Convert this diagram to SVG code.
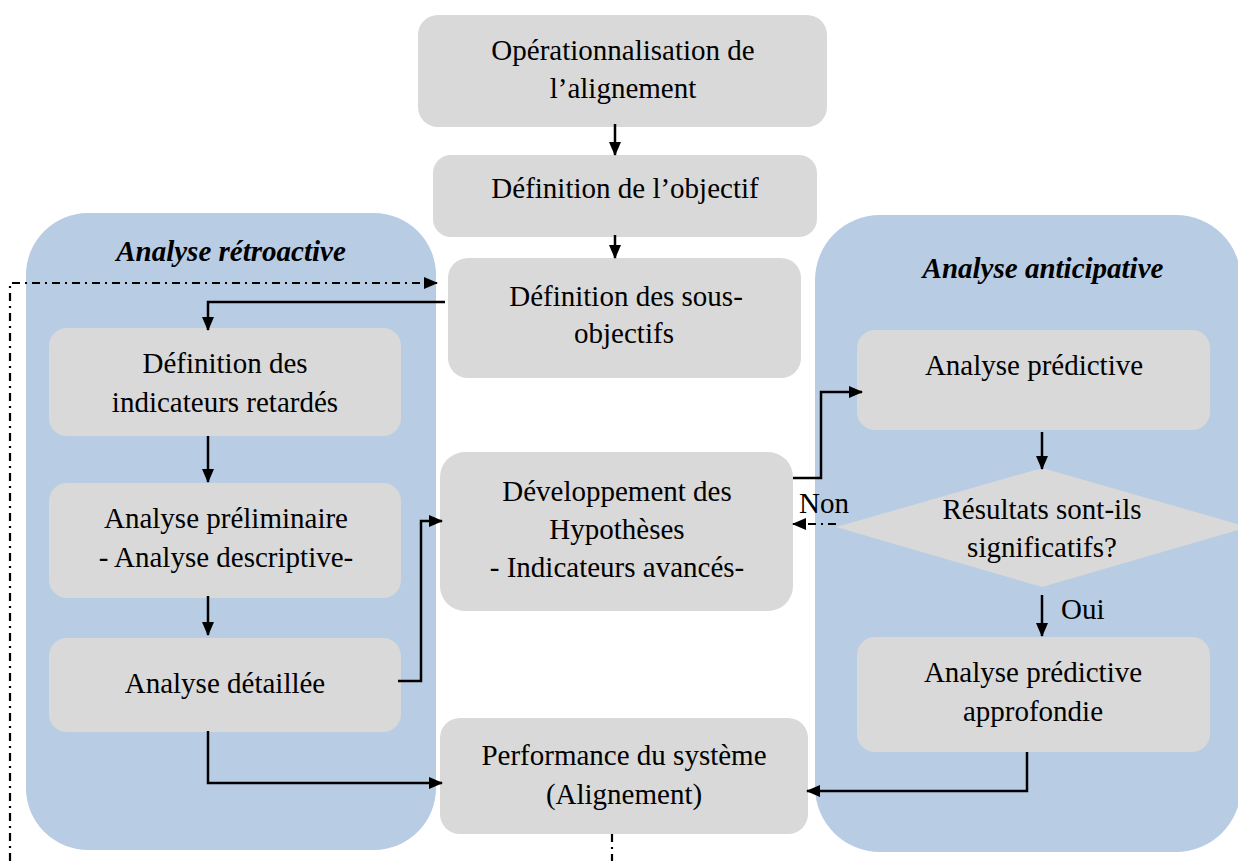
<svg xmlns="http://www.w3.org/2000/svg" width="1238" height="861" viewBox="0 0 1238 861">
  <defs>
    <marker id="arrow" viewBox="0 0 14 14" refX="13" refY="7" markerWidth="14" markerHeight="14" markerUnits="userSpaceOnUse" orient="auto">
      <path d="M0,1 L14,7 L0,13 Z" fill="#000"/>
    </marker>
  </defs>
  <style>
    text { font-family: 'Liberation Serif', 'Times New Roman', Times, serif; font-size: 29px; fill: #000; }
    .panel { fill: #b8cce4; }
    .box { fill: #d9d9d9; }
    .lbl { text-anchor: middle; }
    .title { font-weight: bold; font-style: italic; text-anchor: middle; }
    .line { fill: none; stroke: #000; stroke-width: 2.5; }
    .dashdot { fill: none; stroke: #000; stroke-width: 2.2; stroke-dasharray: 8 5 2 5; }
  </style>
  <rect width="1238" height="861" fill="#fff"/>

  <!-- panels -->
  <g id="panel-retro">
    <rect class="panel" x="26" y="213" width="410" height="637" rx="62" ry="62"/>
    <text class="title" x="231" y="261">Analyse rétroactive</text>
  </g>
  <g id="panel-anticip">
    <rect class="panel" x="815" y="215" width="426" height="637" rx="65" ry="65"/>
    <text class="title" x="1043" y="278">Analyse anticipative</text>
  </g>

  <!-- nodes -->
  <g id="n-operationnalisation">
    <rect class="box" x="418" y="15" width="409" height="112" rx="20"/>
    <text class="lbl" x="623" y="60">Opérationnalisation de</text>
    <text class="lbl" x="623" y="98">l’alignement</text>
  </g>
  <g id="n-objectif">
    <rect class="box" x="433" y="155" width="384" height="82" rx="18"/>
    <text class="lbl" x="625" y="198">Définition de l’objectif</text>
  </g>
  <g id="n-sous-objectifs">
    <rect class="box" x="448" y="258" width="353" height="120" rx="20"/>
    <text class="lbl" x="626" y="306">Définition des sous-</text>
    <text class="lbl" x="624" y="343">objectifs</text>
  </g>
  <g id="n-indicateurs-retardes">
    <rect class="box" x="49" y="328" width="352" height="108" rx="18"/>
    <text class="lbl" x="225" y="373">Définition des</text>
    <text class="lbl" x="225" y="412">indicateurs retardés</text>
  </g>
  <g id="n-preliminaire">
    <rect class="box" x="49" y="483" width="352" height="115" rx="18"/>
    <text class="lbl" x="226" y="528">Analyse préliminaire</text>
    <text class="lbl" x="226" y="567">- Analyse descriptive-</text>
  </g>
  <g id="n-detaillee">
    <rect class="box" x="49" y="638" width="352" height="94" rx="18"/>
    <text class="lbl" x="225" y="693">Analyse détaillée</text>
  </g>
  <g id="n-hypotheses">
    <rect class="box" x="440" y="452" width="353" height="159" rx="25"/>
    <text class="lbl" x="617" y="501">Développement des</text>
    <text class="lbl" x="617" y="539">Hypothèses</text>
    <text class="lbl" x="617" y="577">- Indicateurs avancés-</text>
  </g>
  <g id="n-performance">
    <rect class="box" x="440" y="718" width="368" height="116" rx="20"/>
    <text class="lbl" x="624" y="765">Performance du système</text>
    <text class="lbl" x="624" y="804">(Alignement)</text>
  </g>
  <g id="n-predictive">
    <rect class="box" x="857" y="330" width="353" height="100" rx="18"/>
    <text class="lbl" x="1034" y="375">Analyse prédictive</text>
  </g>
  <g id="n-decision">
    <polygon class="box" points="1042,468 1248,527 1042,587 836,527"/>
    <text class="lbl" x="1042" y="519">Résultats sont-ils</text>
    <text class="lbl" x="1042" y="557">significatifs?</text>
  </g>
  <g id="n-approfondie">
    <rect class="box" x="857" y="637" width="353" height="115" rx="18"/>
    <text class="lbl" x="1033" y="682">Analyse prédictive</text>
    <text class="lbl" x="1033" y="721">approfondie</text>
  </g>

  <!-- connectors -->
  <g id="connectors">
    <line class="line" x1="615" y1="124" x2="615" y2="155" marker-end="url(#arrow)"/>
    <line class="line" x1="615" y1="235" x2="615" y2="258" marker-end="url(#arrow)"/>
    <polyline class="line" points="445,302 208,302 208,330" marker-end="url(#arrow)"/>
    <line class="line" x1="208" y1="436" x2="208" y2="482" marker-end="url(#arrow)"/>
    <line class="line" x1="208" y1="596" x2="208" y2="635" marker-end="url(#arrow)"/>
    <polyline class="line" points="398,681 421,681 421,521 442,521" marker-end="url(#arrow)"/>
    <polyline class="line" points="208,731 208,783 442,783" marker-end="url(#arrow)"/>
    <polyline class="line" points="793,478 821,478 821,392 862,392" marker-end="url(#arrow)"/>
    <line class="line" x1="1042" y1="432" x2="1042" y2="469" marker-end="url(#arrow)"/>
    <line class="line" x1="1042" y1="595" x2="1042" y2="636" marker-end="url(#arrow)"/>
    <polyline class="line" points="1027,752 1027,791 807,791" marker-end="url(#arrow)"/>
    <line class="dashdot" x1="836" y1="524" x2="793" y2="524" marker-end="url(#arrow)"/>
    <polyline class="dashdot" points="612,834 612,861"/>
    <polyline class="dashdot" points="10,861 10,283 437,283" marker-end="url(#arrow)"/>
    <text x="799" y="513">Non</text>
    <text x="1061" y="619">Oui</text>
  </g>
</svg>
